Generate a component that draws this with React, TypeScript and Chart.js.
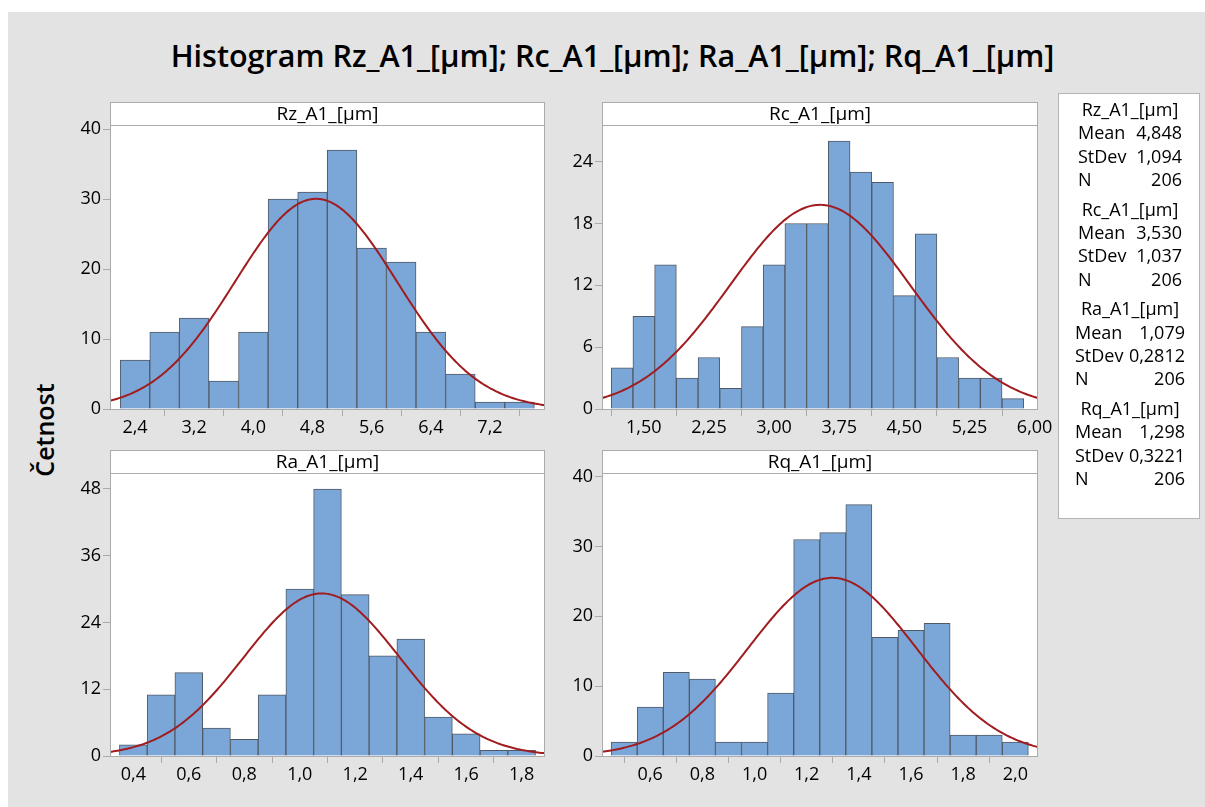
import React, { useEffect, useRef } from "react";
import { Chart, registerables } from "chart.js";

Chart.register(...registerables);

const FONT = '"Open Sans", "Noto Sans", sans-serif';

// ---- data ----
const seriesNames = ["Rz_A1_[μm]", "Rc_A1_[μm]", "Ra_A1_[μm]", "Rq_A1_[μm]"];
const means = [4.848, 3.53, 1.079, 1.298];
const stdevs = [1.094, 1.037, 0.2812, 0.3221];
const nValues = [206, 206, 206, 206];
const binWidths = [0.4, 0.25, 0.1, 0.1];

const rzCenters = [2.4, 2.8, 3.2, 3.6, 4.0, 4.4, 4.8, 5.2, 5.6, 6.0, 6.4, 6.8, 7.2, 7.6];
const rzCounts = [7, 11, 13, 4, 11, 30, 31, 37, 23, 21, 11, 5, 1, 1];
const rzXTicks = [2.4, 3.2, 4.0, 4.8, 5.6, 6.4, 7.2];
const rzYTicks = [0, 10, 20, 30, 40];
const rzXRange = [2.062, 7.944];
const rzYMax = 40.6;

const rcCenters = [1.25, 1.5, 1.75, 2.0, 2.25, 2.5, 2.75, 3.0, 3.25, 3.5, 3.75, 4.0, 4.25, 4.5, 4.75, 5.0, 5.25, 5.5, 5.75];
const rcCounts = [4, 9, 14, 3, 5, 2, 8, 14, 18, 18, 26, 23, 22, 11, 17, 5, 3, 3, 1];
const rcXTicks = [1.5, 2.25, 3.0, 3.75, 4.5, 5.25, 6.0];
const rcYTicks = [0, 6, 12, 18, 24];
const rcXRange = [1.019, 6.039];
const rcYMax = 27.56;

const raCenters = [0.4, 0.5, 0.6, 0.7, 0.8, 0.9, 1.0, 1.1, 1.2, 1.3, 1.4, 1.5, 1.6, 1.7, 1.8];
const raCounts = [2, 11, 15, 5, 3, 11, 30, 48, 29, 18, 21, 7, 4, 1, 1];
const raXTicks = [0.4, 0.6, 0.8, 1.0, 1.2, 1.4, 1.6, 1.8];
const raYTicks = [0, 12, 24, 36, 48];
const raXRange = [0.316, 1.884];
const raYMax = 50.87;

const rqCenters = [0.5, 0.6, 0.7, 0.8, 0.9, 1.0, 1.1, 1.2, 1.3, 1.4, 1.5, 1.6, 1.7, 1.8, 1.9, 2.0];
const rqCounts = [2, 7, 12, 11, 2, 2, 9, 31, 32, 36, 17, 18, 19, 3, 3, 2];
const rqXTicks = [0.6, 0.8, 1.0, 1.2, 1.4, 1.6, 1.8, 2.0];
const rqYTicks = [0, 10, 20, 30, 40];
const rqXRange = [0.415, 2.087];
const rqYMax = 40.53;

const centersList = [rzCenters, rcCenters, raCenters, rqCenters];
const countsList = [rzCounts, rcCounts, raCounts, rqCounts];
const xTicksList = [rzXTicks, rcXTicks, raXTicks, rqXTicks];
const yTicksList = [rzYTicks, rcYTicks, raYTicks, rqYTicks];
const xRanges = [rzXRange, rcXRange, raXRange, rqXRange];
const yMaxes = [rzYMax, rcYMax, raYMax, rqYMax];
const xDecimals = [1, 2, 1, 1];

// ---- layout / style ----
const Y_AXIS_W = 52;
const X_AXIS_H = 40;
const HEADER_H = 23;
const PAD_R = 30;
const panelBoxes = [
  { plotLeft: 110, headerTop: 102, plotW: 435, plotH: 284 },
  { plotLeft: 602, headerTop: 102, plotW: 436, plotH: 284 },
  { plotLeft: 110, headerTop: 450, plotW: 435, plotH: 283 },
  { plotLeft: 602, headerTop: 450, plotW: 436, plotH: 283 },
];
const BAR_FILL = "#7ba7d8";
const BAR_EDGE = "#505a66";
const CURVE = "#a01c1f";
const FRAME = "#ababab";
const BG = "#e3e3e3";
const TICK_FONT = 18;

const fmt = (v: number, d: number) => v.toFixed(d).replace(".", ",");

function Panel({ idx }: { idx: number }) {
  const ref = useRef<HTMLCanvasElement>(null);
  const box = panelBoxes[idx];
  const width = Y_AXIS_W + box.plotW + PAD_R;
  const height = HEADER_H + box.plotH + X_AXIS_H;

  useEffect(() => {
    const [xMin, xMax] = xRanges[idx];
    const mean = means[idx];
    const sd = stdevs[idx];
    const scaleK = nValues[idx] * binWidths[idx];
    const curve: { x: number; y: number }[] = [];
    const steps = 240;
    for (let i = 0; i <= steps; i++) {
      const x = xMin + ((xMax - xMin) * i) / steps;
      const z = (x - mean) / sd;
      curve.push({ x, y: (scaleK * Math.exp(-0.5 * z * z)) / (sd * Math.sqrt(2 * Math.PI)) });
    }
    const bars = centersList[idx].map((c, i) => ({ x: c, y: countsList[idx][i] }));
    const title = seriesNames[idx];

    const framePlugin = {
      id: "frame",
      beforeDraw(chart: any) {
        const { ctx, chartArea: a } = chart;
        ctx.save();
        ctx.fillStyle = "#ffffff";
        ctx.fillRect(a.left, a.top, a.right - a.left, a.bottom - a.top);
        ctx.fillRect(a.left, a.top - HEADER_H, a.right - a.left, HEADER_H);
        ctx.restore();
      },
      afterDraw(chart: any) {
        const { ctx, chartArea: a } = chart;
        ctx.save();
        ctx.strokeStyle = FRAME;
        ctx.lineWidth = 1;
        const l = Math.round(a.left) + 0.5;
        const r = Math.round(a.right) - 0.5;
        const t = Math.round(a.top) + 0.5;
        const b = Math.round(a.bottom) + 0.5;
        const ht = Math.round(a.top - HEADER_H) + 0.5;
        ctx.strokeRect(l, ht, r - l, b - ht);
        ctx.beginPath();
        ctx.moveTo(l, t);
        ctx.lineTo(r, t);
        ctx.stroke();
        ctx.fillStyle = "#000";
        ctx.font = `19px ${FONT}`;
        ctx.textAlign = "center";
        ctx.textBaseline = "middle";
        ctx.fillText(title, (a.left + a.right) / 2, a.top - HEADER_H / 2 + 1);
        ctx.restore();
      },
    };

    const chart = new Chart(ref.current as HTMLCanvasElement, {
      type: "bar",
      data: {
        datasets: [
          {
            type: "line",
            data: curve,
            borderColor: CURVE,
            borderWidth: 2,
            pointRadius: 0,
            tension: 0,
            fill: false,
            order: 0,
          } as any,
          {
            type: "bar",
            data: bars,
            backgroundColor: BAR_FILL,
            borderColor: BAR_EDGE,
            borderWidth: 1,
            borderSkipped: "bottom",
            barPercentage: 1,
            categoryPercentage: 1,
            order: 1,
          } as any,
        ],
      },
      options: {
        animation: false,
        responsive: false,
        events: [],
        layout: { padding: { top: HEADER_H, right: PAD_R, left: 0, bottom: 0 } },
        plugins: { legend: { display: false }, tooltip: { enabled: false }, title: { display: false } },
        scales: {
          x: {
            type: "linear",
            min: xMin,
            max: xMax,
            offset: false,
            afterBuildTicks: (s: any) => {
              s.ticks = xTicksList[idx].map((v) => ({ value: v }));
            },
            afterFit: (s: any) => {
              s.height = X_AXIS_H;
            },
            grid: { drawOnChartArea: false, drawTicks: true, tickLength: 7, color: FRAME },
            border: { display: false },
            ticks: {
              autoSkip: false,
              maxRotation: 0,
              padding: 1,
              color: "#000",
              font: { family: FONT, size: TICK_FONT },
              callback: (v: any) => fmt(Number(v), xDecimals[idx]),
            },
          },
          y: {
            type: "linear",
            min: 0,
            max: yMaxes[idx],
            afterBuildTicks: (s: any) => {
              s.ticks = yTicksList[idx].map((v) => ({ value: v }));
            },
            afterFit: (s: any) => {
              s.width = Y_AXIS_W;
            },
            grid: { drawOnChartArea: false, drawTicks: true, tickLength: 7, color: FRAME },
            border: { display: false },
            ticks: {
              autoSkip: false,
              padding: 2,
              color: "#000",
              font: { family: FONT, size: TICK_FONT },
              callback: (v: any) => String(v),
            },
          },
        },
      } as any,
      plugins: [framePlugin],
    });
    return () => chart.destroy();
  }, [idx]);

  return (
    <canvas
      ref={ref}
      width={width}
      height={height}
      style={{
        position: "absolute",
        left: box.plotLeft - Y_AXIS_W,
        top: box.headerTop,
        width,
        height,
      }}
    />
  );
}

function StatsBox() {
  const rows: React.ReactNode[] = [];
  seriesNames.forEach((name, g) => {
    const titleC = 109 + g * 99.7;
    const labelX = g < 2 ? 1077 - 1058 : 1074 - 1058;
    const valueR = g < 2 ? 1200 - 1182 : 1200 - 1185;
    const lineStyle = (c: number): React.CSSProperties => ({
      position: "absolute",
      top: c - 12 - 93,
      height: 23,
      lineHeight: "23px",
      whiteSpace: "nowrap",
    });
    rows.push(
      <div key={`t${g}`} style={{ ...lineStyle(titleC), left: 0, width: 142, textAlign: "center" }}>
        {name}
      </div>
    );
    const items = [
      ["Mean", fmt(means[g], 3)],
      ["StDev", stdevs[g].toPrecision(4).replace(".", ",")],
      ["N", String(nValues[g])],
    ];
    items.forEach(([lab, val], k) => {
      const c = titleC + 23.3 * (k + 1);
      rows.push(
        <div key={`l${g}${k}`} style={{ ...lineStyle(c), left: labelX }}>
          {lab}
        </div>
      );
      rows.push(
        <div key={`v${g}${k}`} style={{ ...lineStyle(c), right: valueR - 1, textAlign: "right" }}>
          {val}
        </div>
      );
    });
  });
  return (
    <div
      style={{
        position: "absolute",
        left: 1058,
        top: 93,
        width: 142,
        height: 426,
        boxSizing: "border-box",
        background: "#fff",
        border: "1px solid #b4b4b4",
        fontFamily: FONT,
        fontSize: 18,
        color: "#000",
      }}
    >
      {rows}
    </div>
  );
}

export default function App() {
  return (
    <div>
      <div style={{ position: "absolute", left: 8, top: 12, width: 1197, height: 795, background: BG }} />
      <div
        style={{
          position: "absolute",
          left: 112,
          top: 37,
          width: 1001,
          textAlign: "center",
          fontFamily: FONT,
          fontWeight: 600,
          fontSize: 30.5,
          lineHeight: "36px",
          color: "#000",
          whiteSpace: "nowrap",
        }}
      >
        Histogram Rz_A1_[μm]; Rc_A1_[μm]; Ra_A1_[μm]; Rq_A1_[μm]
      </div>
      <div
        style={{
          position: "absolute",
          left: 44,
          top: 430,
          transform: "translate(-50%, -50%) rotate(-90deg)",
          fontFamily: FONT,
          fontWeight: 600,
          fontSize: 25,
          lineHeight: "30px",
          color: "#000",
          whiteSpace: "nowrap",
        }}
      >
        Četnost
      </div>
      {[0, 1, 2, 3].map((i) => (
        <Panel key={i} idx={i} />
      ))}
      <StatsBox />
    </div>
  );
}
